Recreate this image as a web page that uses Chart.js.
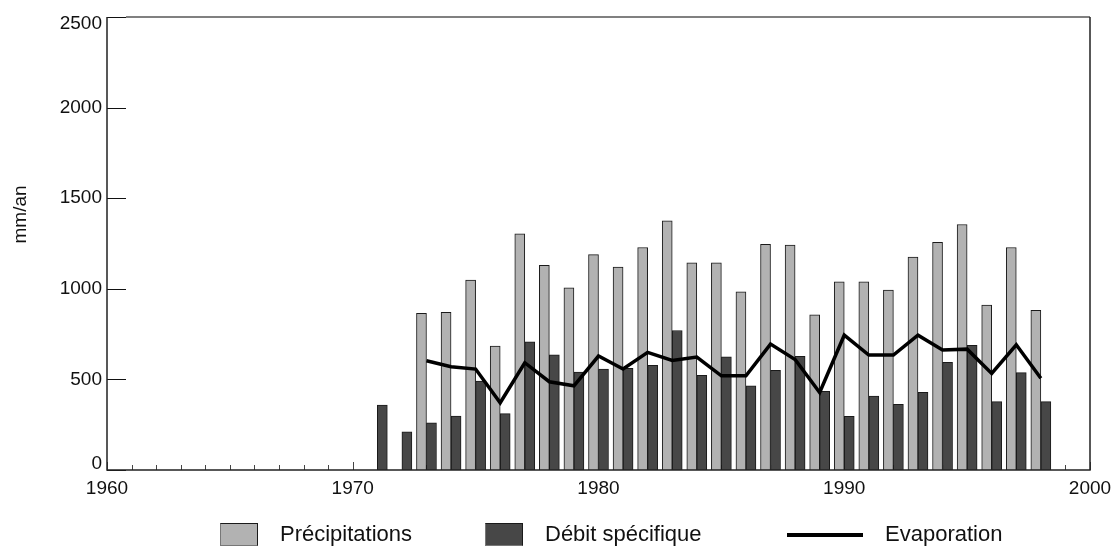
<!DOCTYPE html>
<html lang="fr">
<head>
<meta charset="utf-8">
<title>mm/an</title>
<script src="https://cdn.jsdelivr.net/npm/chart.js@4/dist/chart.umd.min.js"></script>
<style>
  body { margin: 0; background: #fff; }
  #wrap { position: relative; width: 1113px; height: 551px; font-family: "Liberation Sans", Arial, sans-serif; }
  #wrap canvas { position: absolute; left: 0; top: 0; }
  .lg { position: absolute; }
  .lg-txt { position: absolute; top: 521px; font-size: 22px; line-height: 26px; color: #111; white-space: nowrap; }
  .lg-box { top: 523px; width: 36px; height: 21px; border: 1px solid #1a1a1a; border-left-color: #777; border-bottom-color: #777; }
  .lg-line { top: 533px; height: 4px; background: #000; }
</style>
</head>
<body>
<div id="wrap">
  <canvas id="chart" width="1113" height="551"></canvas>
  <div class="lg lg-box" style="left:220px;background:#b2b2b2"></div>
  <div class="lg-txt" style="left:280px">Précipitations</div>
  <div class="lg lg-box" style="left:485px;background:#474747"></div>
  <div class="lg-txt" style="left:545px">Débit spécifique</div>
  <div class="lg lg-line" style="left:787px;width:76px"></div>
  <div class="lg-txt" style="left:885px">Evaporation</div>
</div>
<script>
// annual values (mm/an), 1971 -> 1998
const years = [1971, 1972, 1973, 1974, 1975, 1976, 1977, 1978, 1979, 1980,
  1981, 1982, 1983, 1984, 1985, 1986, 1987, 1988, 1989, 1990,
  1991, 1992, 1993, 1994, 1995, 1996, 1997, 1998];
const precipitations = [null, null, 864, 870, 1048, 684, 1303, 1129, 1005, 1189,
  1120, 1228, 1375, 1143, 1143, 983, 1245, 1241, 857, 1039,
  1039, 993, 1175, 1256, 1355, 910, 1228, 881];
const debitSpecifique = [358, 211, 261, 298, 491, 311, 708, 636, 540, 557,
  561, 577, 770, 522, 625, 465, 550, 627, 434, 296,
  408, 362, 428, 594, 688, 377, 537, 377];
const evaporation = [null, null, 603, 570, 557, 371, 592, 487, 465, 629,
  557, 649, 605, 623, 520, 520, 695, 610, 428, 744,
  634, 634, 744, 662, 667, 533, 691, 506];

const xMin = 1960, xMax = 2000;
const yTicks = [0, 500, 1000, 1500, 2000, 2500];

const pts = arr => years.map((yr, i) => ({ x: yr, y: arr[i] }));

const FONT = '"Liberation Sans", Arial, sans-serif';
Chart.defaults.font.family = FONT;
Chart.defaults.color = '#111';

// ticks drawn inside the frame, plus the box around the plot
const frame = {
  id: 'frame',
  beforeDatasetsDraw(chart) {
    const { ctx, chartArea: a, scales: { x, y } } = chart;
    ctx.save();
    ctx.lineWidth = 1;
    ctx.strokeStyle = '#444';
    ctx.beginPath();
    x.ticks.forEach(t => {
      const px = Math.round(x.getPixelForValue(t.value)) + 0.5;
      const len = t.value % 10 === 0 ? 8 : 5;
      ctx.moveTo(px, a.bottom);
      ctx.lineTo(px, a.bottom - len);
    });
    ctx.stroke();
    ctx.strokeStyle = '#111';
    ctx.beginPath();
    y.ticks.forEach(t => {
      const py = Math.round(y.getPixelForValue(t.value)) + 0.5;
      ctx.moveTo(a.left, py);
      ctx.lineTo(a.left + 19, py);
    });
    ctx.stroke();
    ctx.restore();
  },
  afterDatasetsDraw(chart) {
    const { ctx, chartArea: a } = chart;
    ctx.save();
    ctx.lineWidth = 2;
    ctx.strokeStyle = '#808080';
    ctx.beginPath();
    ctx.moveTo(a.left + 19, a.top);
    ctx.lineTo(a.right, a.top);
    ctx.stroke();
    ctx.lineWidth = 1.5;
    ctx.strokeStyle = '#222';
    ctx.beginPath();
    ctx.moveTo(a.right, a.top);
    ctx.lineTo(a.right, a.bottom);
    ctx.lineTo(a.left, a.bottom);
    ctx.lineTo(a.left, a.top);
    ctx.stroke();
    ctx.restore();
  }
};

new Chart(document.getElementById('chart'), {
  type: 'bar',
  data: {
    datasets: [
      {
        label: 'Précipitations',
        data: pts(precipitations),
        backgroundColor: '#b2b2b2',
        borderColor: '#1a1a1a',
        borderWidth: 1,
        barThickness: 10,
        order: 1
      },
      {
        label: 'Débit spécifique',
        data: pts(debitSpecifique),
        backgroundColor: '#474747',
        borderColor: '#1a1a1a',
        borderWidth: 1,
        barThickness: 10,
        order: 1
      },
      {
        type: 'line',
        label: 'Evaporation',
        data: pts(evaporation),
        borderColor: '#000',
        borderWidth: 3.5,
        pointRadius: 0,
        tension: 0,
        order: 0
      }
    ]
  },
  options: {
    responsive: false,
    animation: false,
    layout: { padding: { left: 0, top: 17, right: 23, bottom: 51 } },
    plugins: { legend: { display: false }, tooltip: { enabled: false } },
    scales: {
      x: {
        type: 'linear',
        offset: false,
        min: xMin,
        max: xMax,
        afterFit: s => { s.height = 30; s.paddingLeft = 0; s.paddingRight = 0; },
        grid: { display: false, drawTicks: false },
        border: { display: false },
        ticks: {
          stepSize: 1,
          autoSkip: false,
          maxRotation: 0,
          padding: 7,
          color: '#111',
          font: { size: 19 },
          callback: v => (v % 10 === 0 ? String(v) : '')
        }
      },
      y: {
        min: 0,
        max: 2500,
        afterBuildTicks: s => { s.ticks = yTicks.map(v => ({ value: v })); },
        afterFit: s => { s.width = 107; s.paddingTop = 0; s.paddingBottom = 0; },
        grid: { display: false, drawTicks: false },
        border: { display: false },
        title: {
          display: true,
          text: '\u00a0'.repeat(11) + 'mm/an',
          color: '#111',
          font: { size: 19 },
          padding: { top: 9, bottom: 0 }
        },
        ticks: {
          padding: 5,
          color: '#111',
          font: ctx => (ctx.tick && (ctx.tick.value === 0 || ctx.tick.value === 2500)
            ? { size: 19, lineHeight: '13px' } : { size: 19 }),
          callback: v => (v === 2500 ? ['', '2500'] : v === 0 ? ['0', ''] : String(v))
        }
      }
    }
  },
  plugins: [frame]
});
</script>
</body>
</html>
